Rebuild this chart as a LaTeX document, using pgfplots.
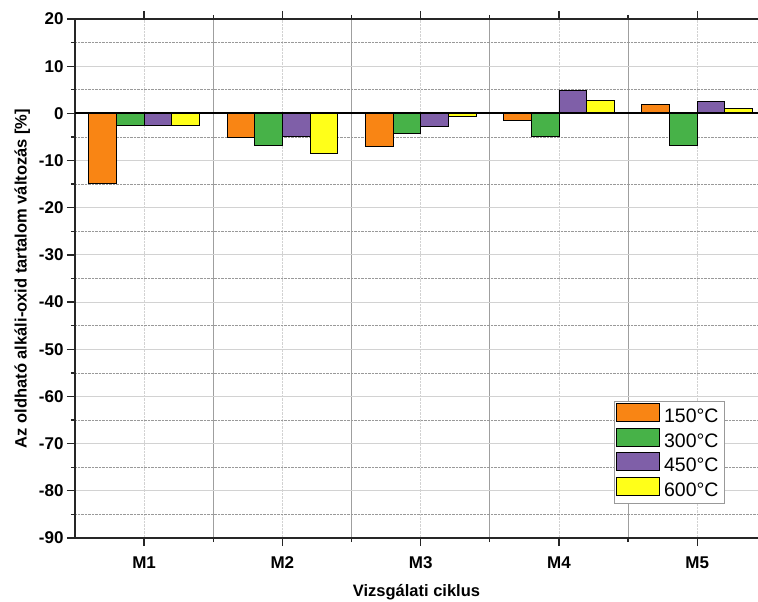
\documentclass[border=0pt]{standalone}
\usepackage{pgfplots}
\pgfplotsset{compat=1.18}
\usepackage{fontspec}
\setmainfont{Liberation Sans}
\definecolor{cO}{HTML}{F98514}
\definecolor{cG}{HTML}{47B248}
\definecolor{cP}{HTML}{7F5FA8}
\definecolor{cY}{HTML}{FFFF19}
\begin{document}
\begin{tikzpicture}
\begin{axis}[
  name=ax,
  scale only axis,
  width=683pt, height=519pt,
  xmin=-0.5, xmax=4.44,
  ymin=-90, ymax=20,
  axis x line=box, axis y line*=left,
  axis line style={line width=1.3pt, black!85},
  xtick={0,1,2,3,4},
  xticklabels={M1,M2,M3,M4,M5},
  minor xtick={0.5,1.5,2.5,3.5},
  ytick={-90,-80,...,20},
  minor ytick={-85,-75,...,15},
  tick align=outside,
  major tick length=8pt, minor tick length=4pt,
  tick style={line width=1.3pt, black!85},
  xtick pos=both,
  grid=both,
  major x grid style={densely dotted, gray!35, line width=0.6pt},
  minor x grid style={solid, gray!75, line width=0.8pt},
  major y grid style={solid, gray!35, line width=0.9pt},
  minor y grid style={densely dotted, gray!80, line width=0.7pt},
  /pgf/number format/assume math mode=true,
  ticklabel style={font=\fontsize{17}{19}\selectfont\bfseries},
  yticklabel style={xshift=0pt},
  xticklabel style={yshift=-7pt},
  label style={font=\fontsize{16.5}{19}\selectfont\bfseries},
  xlabel={Vizsgálati ciklus},
  ylabel={Az oldható alkáli-oxid tartalom változás [\%]},
  xlabel style={yshift=-9pt},
  ylabel style={yshift=2pt},
  ybar, bar width=0.2,
  legend style={at={(rel axis cs:0.789,0.264)}, anchor=north west,
    draw=gray!80, line width=0.8pt, font=\fontsize{19.5}{21}\selectfont,
    row sep=0pt, inner sep=2pt, fill=white,
    nodes={inner ysep=1.1pt, inner xsep=4pt, text height=14pt, text depth=4pt}},
  legend cell align=left,
  legend image code/.code={\draw[#1, line width=0.8pt] (0pt,-4pt) rectangle (43pt,14pt);},
]
\addplot[fill=cO, draw=black, line width=0.8pt, bar shift=-0.3] coordinates {(0,-14.9) (1,-5.0) (2,-7.0) (3,-1.5) (4,1.8)};
\addplot[fill=cG, draw=black, line width=0.8pt, bar shift=-0.1] coordinates {(0,-2.5) (1,-6.8) (2,-4.2) (3,-4.8) (4,-6.7)};
\addplot[fill=cP, draw=black, line width=0.8pt, bar shift=0.1] coordinates {(0,-2.5) (1,-4.9) (2,-2.7) (3,4.9) (4,2.5)};
\addplot[fill=cY, draw=black, line width=0.8pt, bar shift=0.3] coordinates {(0,-2.5) (1,-8.5) (2,-0.6) (3,2.7) (4,1.0)};
\legend{150°C,300°C,450°C,600°C}
\draw[black, line width=1.8pt] (axis cs:-0.5,0) -- (axis cs:4.44,0);
\end{axis}
\pgfresetboundingbox
\useasboundingbox ([shift={(-75pt,-63pt)}]ax.south west) rectangle ([shift={(0pt,19pt)}]ax.north east);
\end{tikzpicture}
\end{document}
